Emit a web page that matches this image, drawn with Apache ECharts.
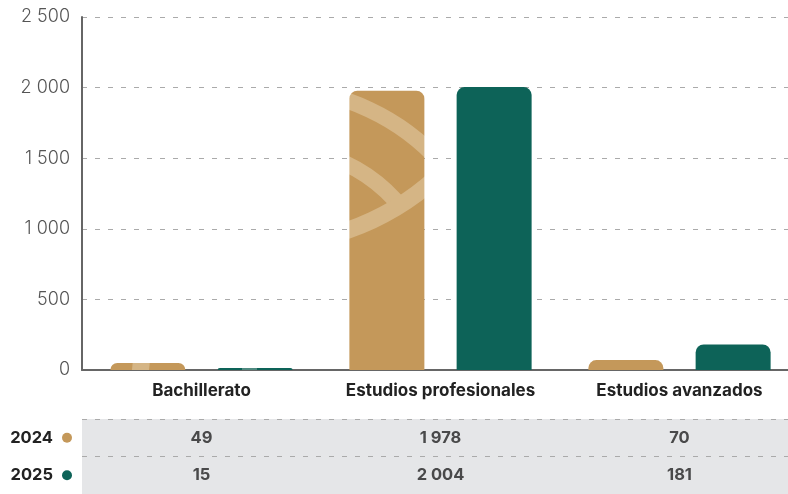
<!DOCTYPE html>
<html lang="es">
<head>
    <meta charset="UTF-8">
    <title>Estudiantes por nivel</title>
    <script src="https://cdn.jsdelivr.net/npm/echarts@6/dist/echarts.min.js"></script>
    <style>
        html, body { margin: 0; padding: 0; background: #fff; overflow: hidden; }
        #chart { width: 800px; height: 494px; }
    </style>
</head>
<body>
    <div id="chart"></div>
    <script>
        const categories = ['Bachillerato', 'Estudios profesionales', 'Estudios avanzados'];
        const years = ['2024', '2025'];
        const values2024 = [49, 1978, 70];
        const values2025 = [15, 2004, 181];
        const yTicks = [0, 500, 1000, 1500, 2000, 2500];

        const gold = '#C4985A';
        const goldLight = '#D5B585';
        const teal = '#0D6358';
        const tealLight = '#4F8A80';
        const font = 'Inter, "Noto Sans", sans-serif';

        // miles con espacio: 1978 -> "1 978"
        function fmt(n) {
            return String(n).replace(/\B(?=(\d{3})+(?!\d))/g, '\u00a0');
        }

        // textura de arcos (motivo decorativo de las barras)
        function goldTexture() {
            const c = document.createElement('canvas');
            c.width = 800; c.height = 494;
            const ctx = c.getContext('2d');
            ctx.fillStyle = gold;
            ctx.fillRect(0, 0, c.width, c.height);
            ctx.strokeStyle = goldLight;
            ctx.lineCap = 'butt';
            ctx.lineWidth = 16;
            const rad = d => d * Math.PI / 180;
            ctx.beginPath();
            ctx.arc(276, 310, 221, rad(-110), rad(-20));
            ctx.stroke();
            ctx.beginPath();
            ctx.arc(276, 310, 162, rad(-110), rad(-38));
            ctx.stroke();
            ctx.lineWidth = 17;
            ctx.beginPath();
            ctx.arc(265, -10, 254, rad(20), rad(110));
            ctx.stroke();
            ctx.beginPath();
            ctx.moveTo(143, 345);
            ctx.lineTo(139, 385);
            ctx.stroke();
            return c;
        }

        function tealTexture() {
            const c = document.createElement('canvas');
            c.width = 800; c.height = 494;
            const ctx = c.getContext('2d');
            ctx.fillStyle = teal;
            ctx.fillRect(0, 0, c.width, c.height);
            ctx.fillStyle = tealLight;
            ctx.fillRect(242, 355, 15, 20);
            return c;
        }

        let myChart = echarts.init(document.getElementById('chart'));

        let option = {
            animation: false,
            textStyle: { fontFamily: font },
            grid: [
                { left: 82, top: 17, width: 717, height: 353 },
                { left: 82, top: 419, width: 717, height: 76, show: true, backgroundColor: '#E5E6E8', borderWidth: 0 }
            ],
            xAxis: [
                {
                    gridIndex: 0,
                    type: 'category',
                    data: categories,
                    axisTick: { show: false },
                    axisLine: { lineStyle: { color: '#666', width: 2 } },
                    axisLabel: { interval: 0, color: '#222', fontSize: 17, fontWeight: 700, margin: 12 }
                },
                {
                    gridIndex: 1,
                    type: 'category',
                    data: categories,
                    show: false
                }
            ],
            yAxis: [
                {
                    gridIndex: 0,
                    type: 'value',
                    min: yTicks[0],
                    max: yTicks[yTicks.length - 1],
                    interval: 500,
                    axisLine: { show: true, lineStyle: { color: '#666', width: 2 } },
                    axisTick: { show: false },
                    axisLabel: { color: '#555', fontSize: 18, fontWeight: 300, margin: 12, formatter: v => fmt(v) },
                    splitLine: { lineStyle: { color: '#aaa', type: [5, 8], width: 1 } }
                },
                {
                    gridIndex: 1,
                    type: 'category',
                    data: years.slice().reverse(),
                    axisLine: { show: false },
                    axisTick: { show: false },
                    splitLine: { show: true, lineStyle: { color: '#aaa', type: [5, 8], width: 1 } },
                    axisLabel: {
                        margin: 10,
                        formatter: v => '{y|' + v + '}{' + (v === '2024' ? 'g' : 't') + '|}',
                        rich: {
                            y: { color: '#222', fontSize: 16.5, fontWeight: 700, fontFamily: font, padding: [0, 9, 0, 0] },
                            g: { width: 10, height: 10, borderRadius: 5, backgroundColor: gold },
                            t: { width: 10, height: 10, borderRadius: 5, backgroundColor: teal }
                        }
                    }
                }
            ],
            series: [
                {
                    name: '2024',
                    type: 'bar',
                    xAxisIndex: 0, yAxisIndex: 0,
                    data: values2024,
                    barWidth: 75,
                    barGap: '43%',
                    itemStyle: { color: { image: goldTexture(), repeat: 'no-repeat' }, borderRadius: [8, 8, 0, 0] }
                },
                {
                    name: '2025',
                    type: 'bar',
                    xAxisIndex: 0, yAxisIndex: 0,
                    data: values2025,
                    barWidth: 75,
                    barGap: '43%',
                    itemStyle: { color: { image: tealTexture(), repeat: 'no-repeat' }, borderRadius: [8, 8, 0, 0] }
                },
                {
                    name: 'tabla2024',
                    type: 'scatter',
                    xAxisIndex: 1, yAxisIndex: 1,
                    symbolSize: 0,
                    data: values2024.map((v, i) => [categories[i], '2024', v]),
                    label: { show: true, position: 'inside', color: '#222', fontSize: 16.5, fontWeight: 700, formatter: p => fmt(p.data[2]) }
                },
                {
                    name: 'tabla2025',
                    type: 'scatter',
                    xAxisIndex: 1, yAxisIndex: 1,
                    symbolSize: 0,
                    data: values2025.map((v, i) => [categories[i], '2025', v]),
                    label: { show: true, position: 'inside', color: '#222', fontSize: 16.5, fontWeight: 700, formatter: p => fmt(p.data[2]) }
                }
            ]
        };

        myChart.setOption(option);
    </script>
</body>
</html>
